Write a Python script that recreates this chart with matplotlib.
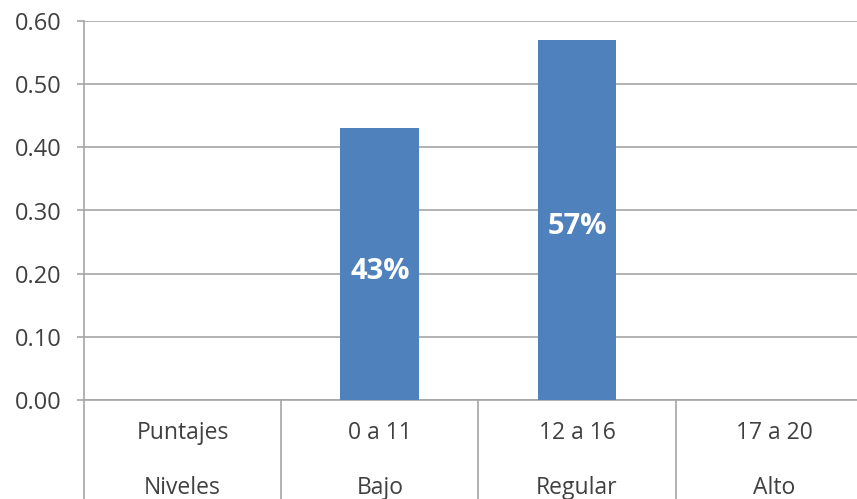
import matplotlib.pyplot as plt
import numpy as np

# Datos del gráfico
puntajes = ["Puntajes", "0 a 11", "12 a 16", "17 a 20"]
niveles = ["Niveles", "Bajo", "Regular", "Alto"]
valores = [np.nan, 0.43, 0.57, np.nan]
etiquetas = ["", "43%", "57%", ""]
y_ticks = [0.0, 0.1, 0.2, 0.3, 0.4, 0.5, 0.6]

plt.rcParams["font.family"] = ["Liberation Sans Narrow", "Open Sans", "DejaVu Sans"]

gris = "#A6A6A6"
texto = "#404040"
azul = "#4F81BD"

fig = plt.figure(figsize=(8.57, 4.99), dpi=100)
ax = fig.add_axes([84 / 857, 1 - 400 / 499, 1 - 84 / 857, 379 / 499])

x = np.arange(len(puntajes))
ax.bar(x, np.nan_to_num(valores), width=0.4, color=azul, zorder=3)

for xi, v, et in zip(x, valores, etiquetas):
    if et:
        ax.annotate(et, (xi, v / 2), xytext=(0, -5), textcoords="offset points",
                    ha="center", va="center", color="white", fontsize=21, fontweight="bold",
                    family=["Open Sans", "DejaVu Sans"], zorder=4)

ax.set_ylim(0, 0.6)
ax.set_xlim(-0.5, 3.42)
ax.set_yticks(y_ticks)
ax.set_yticklabels([f"{t:.2f}" for t in y_ticks])
ax.yaxis.grid(True, color=gris, linewidth=1.2, zorder=0)
ax.set_xticks([])

for s in ["top", "right"]:
    ax.spines[s].set_visible(False)
ax.spines["left"].set_color(gris)
ax.spines["bottom"].set_color(gris)
ax.spines["left"].set_linewidth(1.2)
ax.spines["bottom"].set_linewidth(1.2)
ax.tick_params(axis="y", colors=gris, labelcolor=texto, labelsize=17, length=5, width=1.2, pad=11)

# Tabla de categorías bajo el eje
trans = ax.get_xaxis_transform()
for sep in [-0.5, 0.5, 1.5, 2.5]:
    ax.plot([sep, sep], [0, -0.3], color=gris, linewidth=1.2, transform=trans, clip_on=False)

for xi, p, n in zip(x, puntajes, niveles):
    ax.text(xi, -0.088, p, ha="center", va="center", fontsize=16.5, color=texto, transform=trans)
    ax.text(xi, -0.232, n, ha="center", va="center", fontsize=16.5, color=texto, transform=trans)

plt.savefig("out.png", dpi=100)
